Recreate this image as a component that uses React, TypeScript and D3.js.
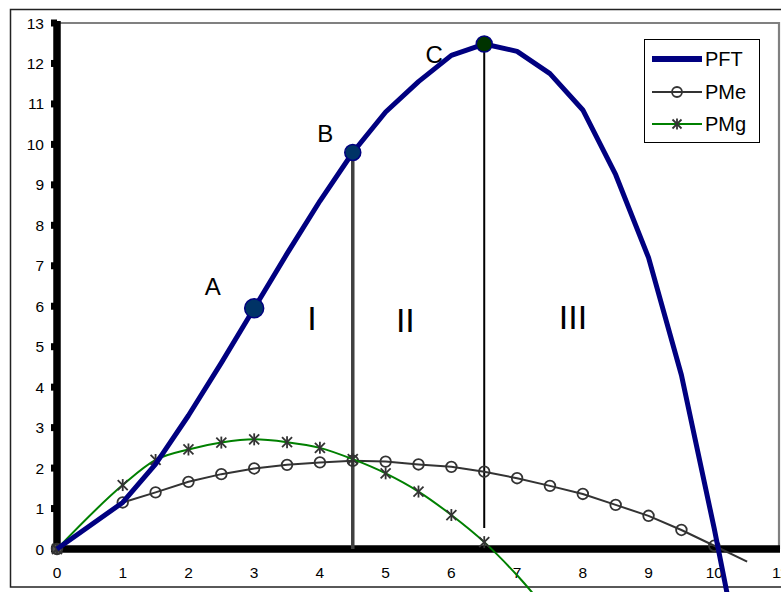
import React from "react";
import * as d3 from "d3";

// Labour input (x) and the three production curves
const labour = [0, 1, 1.5, 2, 2.5, 3, 3.5, 4, 4.5, 5, 5.5, 6, 6.5, 7, 7.5, 8, 8.5, 9, 9.5, 10, 10.5];
const pft = [0, 1.15, 2.1, 3.3, 4.6, 5.95, 7.3, 8.6, 9.8, 10.8, 11.55, 12.2, 12.48, 12.3, 11.75, 10.85, 9.25, 7.2, 4.3, 0.5, -3.6];
const pme = [0, 1.15, 1.4, 1.66, 1.85, 1.99, 2.08, 2.14, 2.18, 2.16, 2.09, 2.03, 1.91, 1.75, 1.56, 1.36, 1.09, 0.82, 0.47, 0.08, -0.31];

const pmgLabour = [0, 1, 1.5, 2, 2.5, 3, 3.5, 4, 4.5, 5, 5.5, 6, 6.5, 7, 7.5];
const pmg = [0, 1.58, 2.2, 2.46, 2.63, 2.71, 2.64, 2.5, 2.22, 1.87, 1.42, 0.84, 0.17, -0.65, -1.6];

const xTicks = [0, 1, 2, 3, 4, 5, 6, 7, 8, 9, 10, 11];
const yTicks = [0, 1, 2, 3, 4, 5, 6, 7, 8, 9, 10, 11, 12, 13];

// Highlighted points on the total product curve
const keyPoints = [
  { name: "A", x: 3, y: 5.95, r: 9.5, fill: "#003366" },
  { name: "B", x: 4.5, y: 9.8, r: 8, fill: "#003366" },
  { name: "C", x: 6.5, y: 12.48, r: 8, fill: "#003300" },
];
const pointLabels = [
  { text: "A", x: 2.37, y: 6.48 },
  { text: "B", x: 4.08, y: 10.26 },
  { text: "C", x: 5.74, y: 12.21 },
];
const stageLabels = [
  { text: "I", x: 3.88, y: 5.71 },
  { text: "II", x: 5.3, y: 5.66 },
  { text: "III", x: 7.85, y: 5.73 },
];
const dropLines = [
  { x: 4.5, from: 9.8, to: 0, color: "#404040", width: 3.5 },
  { x: 6.5, from: 12.48, to: 0.52, color: "#000", width: 2 },
];

const W = 781;
const H = 592;
const FONT = "'Liberation Sans', Arial, sans-serif";

function Star({ cx, cy, s = 5 }: { cx: number; cy: number; s?: number }) {
  return (
    <g stroke="#333" strokeWidth={1.8}>
      <line x1={cx - s} y1={cy - s} x2={cx + s} y2={cy + s} />
      <line x1={cx - s} y1={cy + s} x2={cx + s} y2={cy - s} />
      <line x1={cx} y1={cy - s - 1} x2={cx} y2={cy + s + 1} />
    </g>
  );
}

export default function App() {
  const x = d3.scaleLinear().domain([0, 11]).range([57, 780]);
  const y = d3.scaleLinear().domain([0, 13]).range([549, 23]);

  const straight = d3
    .line<[number, number]>()
    .x((d) => x(d[0]))
    .y((d) => y(d[1]));
  const smooth = d3
    .line<[number, number]>()
    .x((d) => x(d[0]))
    .y((d) => y(d[1]))
    .curve(d3.curveMonotoneX);

  const pftPts = labour.map((l, i) => [l, pft[i]] as [number, number]);
  const pmePts = labour.map((l, i) => [l, pme[i]] as [number, number]);
  const pmgPts = pmgLabour.map((l, i) => [l, pmg[i]] as [number, number]);

  const x0 = x(0);
  const y0 = y(0);

  return (
    <svg
      width={W}
      height={H}
      style={{ position: "absolute", left: 0, top: 0, background: "#fff" }}
      fontFamily={FONT}
    >
      {/* chart frame */}
      <rect x={10.5} y={9.5} width={800} height={577.5} fill="#fff" stroke="#222" strokeWidth={1.5} />

      {/* plot area border (top and right) */}
      <path
        d={`M${x0},${y(13)} H${x(11) - 1} V${y0}`}
        fill="none"
        stroke="#808080"
        strokeWidth={2.2}
      />

      {/* axes */}
      <line x1={x0} y1={y(13) - 2} x2={x0} y2={y0 + 4} stroke="#000" strokeWidth={7.5} />
      <line x1={x0 - 4} y1={y0} x2={x(11)} y2={y0} stroke="#000" strokeWidth={7.5} />
      {yTicks.map((t) => (
        <g key={`yt${t}`}>
          <line x1={x0 - 6} y1={y(t)} x2={x0} y2={y(t)} stroke="#000" strokeWidth={7} />
          <text
            x={44}
            y={y(t)}
            textAnchor="end"
            dominantBaseline="central"
            fontSize={15.5}
            fill="#000"
          >
            {t}
          </text>
        </g>
      ))}
      {xTicks.map((t) => (
        <text
          key={`xt${t}`}
          x={x(t)}
          y={572}
          textAnchor="middle"
          dominantBaseline="central"
          fontSize={15.5}
          fill="#000"
        >
          {t}
        </text>
      ))}

      {/* stage boundaries */}
      {dropLines.map((d, i) => (
        <line
          key={`dl${i}`}
          x1={x(d.x)}
          y1={y(d.from)}
          x2={x(d.x)}
          y2={y(d.to)}
          stroke={d.color}
          strokeWidth={d.width}
        />
      ))}

      {/* average product */}
      <path d={straight(pmePts) || ""} fill="none" stroke="#333" strokeWidth={2} />
      {pmePts
        .filter((p) => p[1] >= 0)
        .map((p, i) => (
          <circle
            key={`pme${i}`}
            cx={x(p[0])}
            cy={y(p[1])}
            r={5.3}
            fill={i === 0 ? "#555" : "none"}
            stroke="#333"
            strokeWidth={1.8}
          />
        ))}

      {/* marginal product */}
      <path d={smooth(pmgPts) || ""} fill="none" stroke="#008000" strokeWidth={2} />
      {pmgPts
        .filter((p) => p[1] >= 0)
        .map((p, i) => (
          <Star key={`pmg${i}`} cx={x(p[0])} cy={y(p[1])} />
        ))}

      {/* total product */}
      <path
        d={straight(pftPts) || ""}
        fill="none"
        stroke="#000080"
        strokeWidth={5}
        strokeLinejoin="round"
      />

      {keyPoints.map((p) => (
        <circle
          key={p.name}
          cx={x(p.x)}
          cy={y(p.y)}
          r={p.r}
          fill={p.fill}
          stroke="#000080"
          strokeWidth={1.5}
        />
      ))}

      {pointLabels.map((l) => (
        <text
          key={`pl${l.text}`}
          x={x(l.x)}
          y={y(l.y)}
          textAnchor="middle"
          dominantBaseline="central"
          fontSize={24}
          fill="#000"
        >
          {l.text}
        </text>
      ))}
      {stageLabels.map((l) => (
        <text
          key={`sl${l.text}`}
          x={x(l.x)}
          y={y(l.y)}
          textAnchor="middle"
          dominantBaseline="central"
          fontSize={34}
          fill="#000"
        >
          {l.text}
        </text>
      ))}

      {/* legend */}
      <g>
        <rect x={644.5} y={39.5} width={115} height={103} fill="#fff" stroke="#000" strokeWidth={1} />
        <line x1={652} y1={59} x2={702} y2={59} stroke="#000080" strokeWidth={6} />
        <text x={705} y={59} dominantBaseline="central" fontSize={20}>
          PFT
        </text>
        <line x1={652} y1={92} x2={702} y2={92} stroke="#333" strokeWidth={2} />
        <circle cx={677} cy={92} r={5} fill="none" stroke="#333" strokeWidth={1.8} />
        <text x={705} y={92} dominantBaseline="central" fontSize={20}>
          PMe
        </text>
        <line x1={652} y1={124} x2={702} y2={124} stroke="#008000" strokeWidth={2} />
        <Star cx={677} cy={124} s={4.5} />
        <text x={705} y={124} dominantBaseline="central" fontSize={20}>
          PMg
        </text>
      </g>
    </svg>
  );
}
